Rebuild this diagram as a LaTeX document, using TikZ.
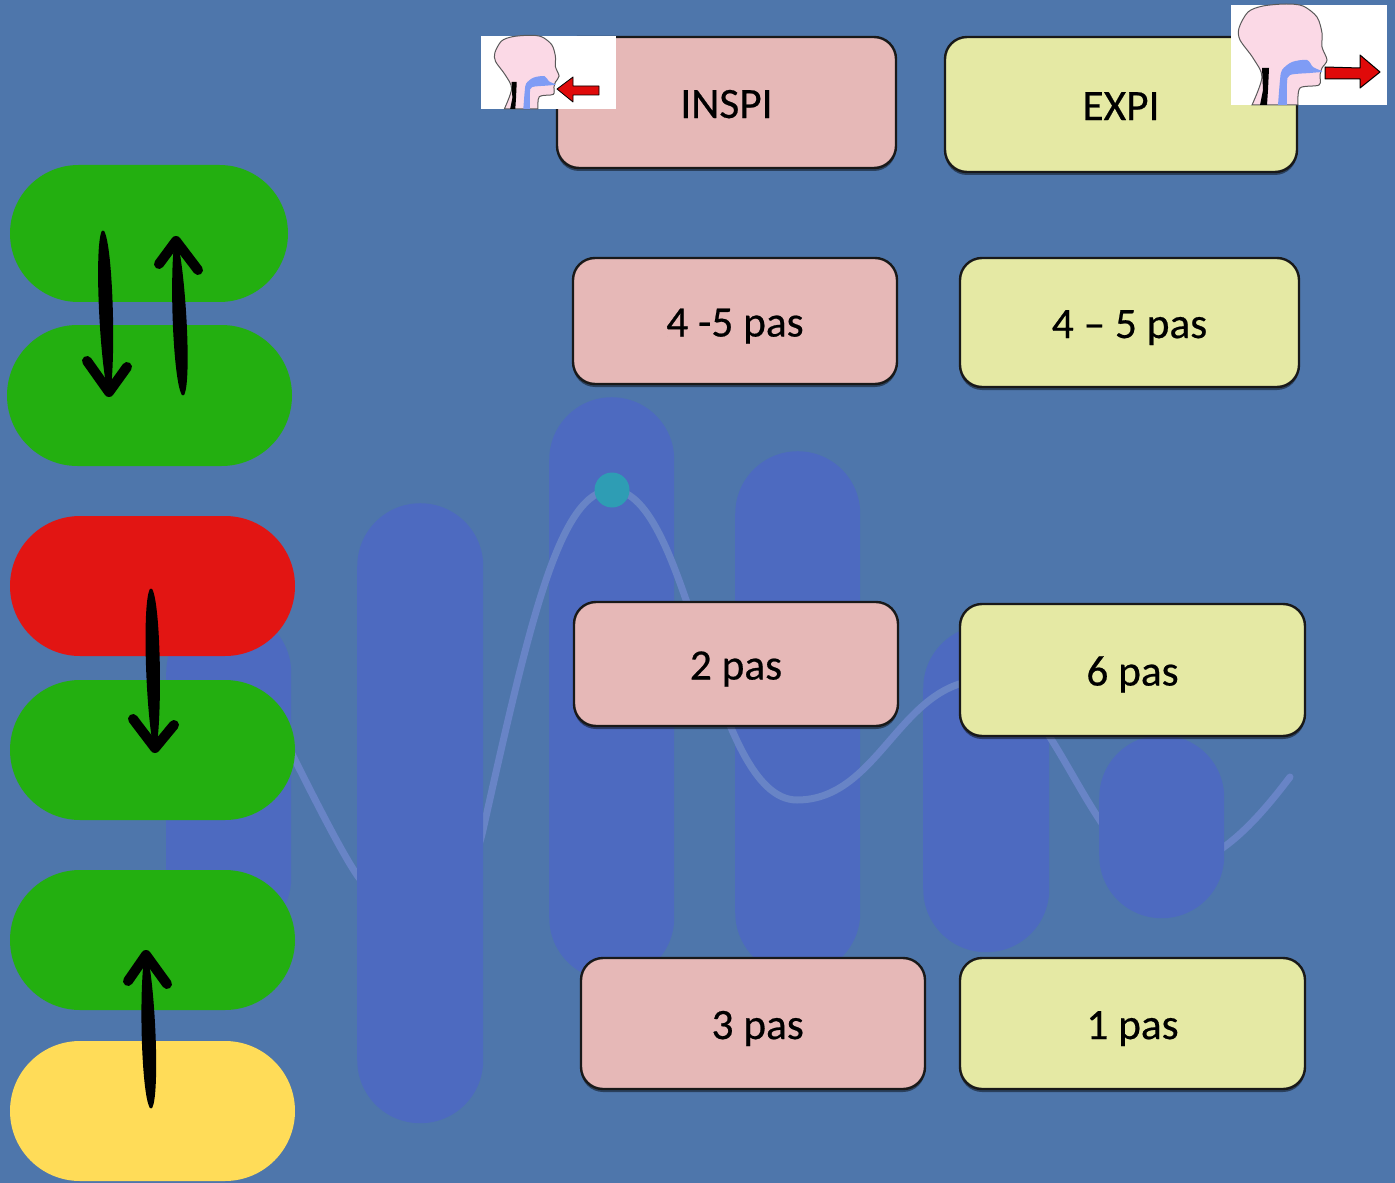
\documentclass[tikz,border=0pt]{standalone}
\usepackage{fontspec}
\setmainfont{Carlito}
\newfontfamily\boxfont[FakeBold=0.5]{Carlito}
\usetikzlibrary{calc,shadows}
\newdimen\pxu \pxu=0.03cm
\definecolor{bgblue}{HTML}{4E76AB}
\definecolor{barblue}{HTML}{4D6AC0}
\definecolor{wave}{HTML}{6884C6}
\definecolor{dotteal}{HTML}{2E9DB4}
\definecolor{pillgreen}{HTML}{23AF10}
\definecolor{pillred}{HTML}{E21513}
\definecolor{pillyellow}{HTML}{FFDC58}
\definecolor{inspipink}{HTML}{E6B8B7}
\definecolor{expiyellow}{HTML}{E5E9A4}
\definecolor{skin}{HTML}{FBD9E6}
\definecolor{airway}{HTML}{7F9CF5}
\definecolor{arrowred}{HTML}{E00A0A}
\tikzset{
  pill/.style 2 args={rectangle,inner sep=0pt,minimum width=#1\pxu,minimum height=#2\pxu,
    rounded corners=0.4999*#2*\pxu},
  bar/.style 2 args={rectangle,inner sep=0pt,minimum width=#1\pxu,minimum height=#2\pxu,
    rounded corners=0.4999*#1*\pxu,fill=barblue,anchor=north west},
  stepbox/.style 2 args={rectangle,inner sep=0pt,minimum width=#1\pxu,minimum height=#2\pxu,
    rounded corners=22\pxu,draw=black!90,line width=2.4\pxu,
    drop shadow={shadow xshift=0pt,shadow yshift=-3\pxu,opacity=.45,fill=black},
    font=\boxfont\fontsize{37}{40}\selectfont,text height=30pt,text depth=3.5pt},
  headicon/.pic={
    \draw[fill=skin,draw=gray!70!black,line width=1\pxu]
      plot[smooth] coordinates {(21,100) (31,72) (22,53) (9,35) (8,23) (17,7) (32,1) (55,-1) (72,1) (86,12) (91,28) (91,42) (96,55) (91,63) (89,70) (88,80) (69,83) (67,100)} -- cycle;
    \fill[airway] plot[smooth] coordinates {(47,100) (49,75) (51,65) (61,57) (76,55) (82,62) (91,66)}
      -- plot[smooth] coordinates {(91,67) (79,68) (59,70) (56,78) (56,100)} -- cycle;
    \fill[black] (31,63) -- (38,63) -- (37,85) -- (36,100) -- (29,100) -- (32,85) -- cycle;
  },
  arrowline/.style={line width=10\pxu,line cap=round,line join=round,draw=black}
}
% hand-drawn arrow: tail, tip, left barb, right barb
\newcommand{\handarrow}[4]{%
  \filldraw[black,line width=3\pxu,line join=round] (#1) .. controls ($(#1)!.1!(#2)+(-7.5,0)$) and ($(#1)!.75!(#2)+(-7,0)$) .. (#2)
    .. controls ($(#1)!.75!(#2)+(7,0)$) and ($(#1)!.1!(#2)+(7.5,0)$) .. (#1) -- cycle;
  \draw[arrowline] (#3) -- (#2) -- (#4);
}
\begin{document}
\begin{tikzpicture}[x=0.03cm,y=-0.03cm]
\useasboundingbox (0,0) rectangle (1395,1183);
\fill[bgblue] (0,0) rectangle (1395,1183);

% background columns lying under the wave
\node[bar={125}{583}] (col3) at (549,397) {};
\node[bar={125}{524}] (col4) at (735,451) {};
\node[bar={126}{327}] (col5) at (923,625) {};

% the wave
\draw[wave,line width=7\pxu,line cap=round]
  (285,740) .. controls (310,790) and (340,850) .. (357,875)
  .. controls (400,935) and (465,910) .. (483,830)
  .. controls (530,620) and (560,490) .. (612,490)
  .. controls (690,490) and (710,800) .. (797,800)
  .. controls (880,800) and (900,680) .. (985,680)
  .. controls (1050,680) and (1095,870) .. (1160,870)
  .. controls (1210,870) and (1250,830) .. (1290,777);
\node[circle,fill=dotteal,minimum size=35\pxu,inner sep=0pt] (peak) at (612,490) {};

% columns lying over the wave
\node[bar={125}{330}] (col1) at (166,610) {};
\node[bar={126}{620}] (col2) at (357,503) {};
\node[bar={125}{183}] (col6) at (1099,735) {};

% left column of pills
\node[pill={278}{137},fill=pillgreen] (g1) at (149,233.5) {};
\node[pill={285}{141},fill=pillgreen] (g2) at (149.5,395.5) {};
\node[pill={285}{140},fill=pillred] (r1) at (152.5,586) {};
\node[pill={285}{140},fill=pillgreen] (g3) at (152.5,750) {};
\node[pill={285}{140},fill=pillgreen] (g4) at (152.5,940) {};
\node[pill={285}{140},fill=pillyellow] (y1) at (152.5,1111) {};

% arrows between the pills
\coordinate (a1t) at (103,232); \coordinate (a1h) at (109,392); \coordinate (a1l) at (87,361); \coordinate (a1r) at (127,367);
\coordinate (a2t) at (183,394); \coordinate (a2h) at (176,241); \coordinate (a2l) at (159,264); \coordinate (a2r) at (198,270);
\coordinate (a3t) at (151,590); \coordinate (a3h) at (155,748); \coordinate (a3l) at (133,719); \coordinate (a3r) at (174,725);
\coordinate (a4t) at (151,1107); \coordinate (a4h) at (146,955); \coordinate (a4l) at (128,981); \coordinate (a4r) at (167,984);
\handarrow{a1t}{a1h}{a1l}{a1r}
\handarrow{a2t}{a2h}{a2l}{a2r}
\handarrow{a3t}{a3h}{a3l}{a3r}
\handarrow{a4t}{a4h}{a4l}{a4r}

% inhalation boxes
\node[stepbox={339}{131},fill=inspipink] (inspi) at (726.5,102.5) {INSPI};
\node[stepbox={324}{126},fill=inspipink] (i45) at (735,321) {4 -5 pas};
\node[stepbox={324}{124},fill=inspipink] (i2) at (736,664) {2 pas};
\node[stepbox={344}{131},fill=inspipink] (i3) at (753,1023.5) {\hspace{8pt}3 pas};

% exhalation boxes
\node[stepbox={352}{135},fill=expiyellow] (expi) at (1121,104.5) {EXPI};
\node[stepbox={339}{129},fill=expiyellow] (e45) at (1129.5,322.5) {4 – 5 pas};
\node[stepbox={345}{132},fill=expiyellow] (e6) at (1132.5,670) {6 pas};
\node[stepbox={345}{131},fill=expiyellow] (e1) at (1132.5,1023.5) {1 pas};

% breathing-in icon
\fill[white] (481,36) rectangle (616,109);
\pic[scale=.73] at (489,36) {headicon};
\fill[arrowred,draw=black,line width=.8\pxu,line join=round]
  (557,89) -- (573,77) -- (573,86) -- (599,86) -- (599,95) -- (573,95) -- (573,102) -- cycle;

% breathing-out icon
\fill[white] (1231,5) rectangle (1387,105);
\begin{scope}[shift={(1231,5)}]
  \pic {headicon};
  \fill[arrowred,draw=black,line width=1\pxu,line join=round]
    (94,62) -- (129,63) -- (129,50) -- (149,67) -- (129,83) -- (129,74) -- (94,74) -- cycle;
\end{scope}
\end{tikzpicture}
\end{document}
